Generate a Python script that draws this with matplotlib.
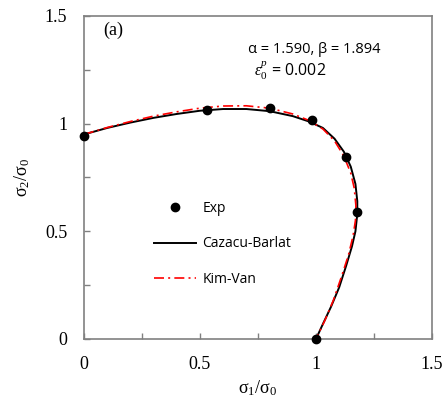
import matplotlib
matplotlib.use("Agg")
from matplotlib import pyplot as plt
from matplotlib.ticker import MultipleLocator

plt.rcParams["mathtext.fontset"] = "custom"
plt.rcParams["mathtext.rm"] = "Liberation Serif"
plt.rcParams["mathtext.it"] = "Liberation Serif:italic"

# experimental points
exp_x = [0.0, 0.53, 0.80, 0.984, 1.128, 1.177, 1.0]
exp_y = [0.945, 1.064, 1.074, 1.018, 0.845, 0.59, 0.0]

# Cazacu-Barlat yield locus
cb_x = [0.0, 0.05, 0.1, 0.2, 0.3, 0.4, 0.5, 0.6, 0.7, 0.8, 0.9, 0.97, 1.03,
        1.08, 1.12, 1.15, 1.17, 1.178, 1.178, 1.17, 1.155, 1.13, 1.1, 1.065,
        1.03, 1.0]
cb_y = [0.95, 0.965, 0.98, 1.005, 1.027, 1.045, 1.06, 1.068, 1.068, 1.058,
        1.035, 1.01, 0.98, 0.93, 0.87, 0.8, 0.72, 0.64, 0.58, 0.5, 0.43, 0.34,
        0.24, 0.15, 0.07, 0.0]

# Kim-Van yield locus
kv_x = [0.0, 0.1, 0.2, 0.3, 0.4, 0.5, 0.6, 0.7, 0.8, 0.9, 0.97, 1.03, 1.08,
        1.12, 1.15, 1.165, 1.172, 1.17, 1.16, 1.14, 1.11, 1.075, 1.04, 1.0]
kv_y = [0.95, 0.982, 1.01, 1.035, 1.055, 1.072, 1.082, 1.083, 1.072, 1.045,
        1.015, 0.975, 0.92, 0.85, 0.77, 0.7, 0.62, 0.55, 0.48, 0.39, 0.29,
        0.18, 0.09, 0.0]

fig = plt.figure(figsize=(4.44, 4.05), dpi=100)
ax = fig.add_axes([0.189, 0.163, 0.784, 0.7975])

ax.plot(exp_x, exp_y, linestyle="none", marker="o", color="black",
        markersize=6, label="Exp", zorder=5, clip_on=False)
ax.plot(cb_x, cb_y, color="black", linewidth=1.4, label="Cazacu-Barlat")
ax.plot(kv_x, kv_y, color="red", linewidth=1.2, linestyle=(0, (6, 2.5, 1.2, 2.5)),
        label="Kim-Van")

ax.set_xlim(0, 1.5)
ax.set_ylim(0, 1.5)
ax.xaxis.set_minor_locator(MultipleLocator(0.25))
ax.yaxis.set_minor_locator(MultipleLocator(0.25))
ax.set_xticks([0, 0.5, 1, 1.5])
ax.set_yticks([0, 0.5, 1, 1.5])
ax.set_xticklabels(["0", "0.5", "1", "1.5"], family="Liberation Serif", fontsize=13)
ax.set_yticklabels(["0", "0.5", "1", "1.5"], family="Liberation Serif", fontsize=13)
ax.tick_params(which="both", direction="in", color="#808080", length=4, width=1)
ax.tick_params(which="major", pad=12)
for s in ax.spines.values():
    s.set_color("#808080")
    s.set_linewidth(1.2)

ax.set_xlabel(r"$\mathrm{σ_1/σ_0}$", fontsize=13, labelpad=4)
ax.set_ylabel(r"$\mathrm{σ_2/σ_0}$", fontsize=13, labelpad=9)

ax.text(0.055, 0.955, "(a)", transform=ax.transAxes, family="Liberation Serif",
        fontsize=13, va="center")
ax.text(0.47, 0.895, "α = 1.590, β = 1.894", transform=ax.transAxes,
        family="Open Sans", fontsize=10.5, va="center")
ax.text(0.49, 0.83, r"$\varepsilon_0^p$ = 0.002", transform=ax.transAxes,
        family="Open Sans", fontsize=11.5, va="center")

leg = ax.legend(loc="upper left", bbox_to_anchor=(0.165, 0.465), frameon=False,
                labelspacing=1.45, handlelength=3, handletextpad=0.5,
                prop={"family": "Open Sans", "size": 10})

fig.savefig("out.png", dpi=100)
